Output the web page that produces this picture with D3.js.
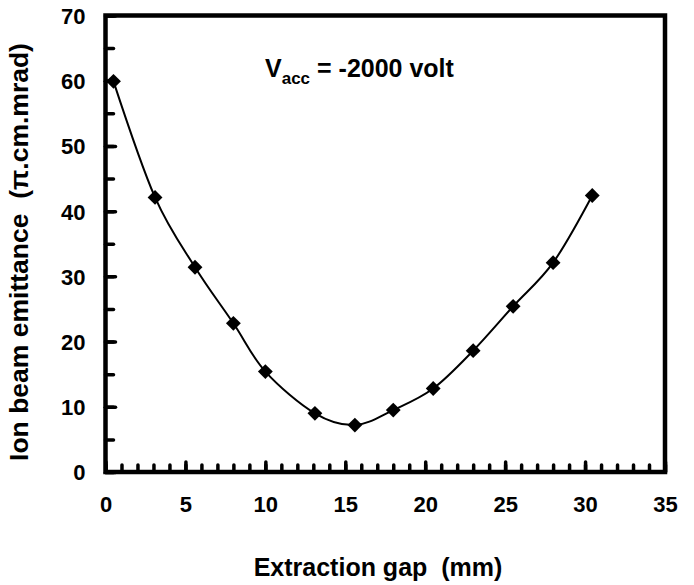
<!DOCTYPE html>
<html lang="en">
<head>
    <meta charset="UTF-8" />
    <script src="https://d3js.org/d3.v7.min.js"></script>
    <title>Ion beam emittance</title>
    <style>
        body { margin: 0; background: #fff; }
        text { font-family: "Liberation Sans", Arial, sans-serif; font-weight: bold; fill: #000; white-space: pre; }
        .axis .domain { display: none; }
    </style>
</head>
<body>
    <script>
        // extraction gap (mm) and emittance (pi.cm.mrad)
        const gap = [0.5, 3.1, 5.6, 8.0, 10.0, 13.1, 15.6, 18.0, 20.5, 23.0, 25.5, 28.0, 30.45];
        const emittance = [59.9, 42.1, 31.4, 22.8, 15.4, 9.0, 7.2, 9.5, 12.8, 18.6, 25.4, 32.1, 42.4];
        const xTicks = [0, 5, 10, 15, 20, 25, 30, 35];
        const yTicks = [0, 10, 20, 30, 40, 50, 60, 70];

        const points = gap.map((g, i) => ({ x: g, y: emittance[i] }));

        const svg = d3.select("body")
                    .append("svg")
                    .attr("width", 694)
                    .attr("height", 585);

        const plotL = 105.5, plotR = 665, plotT = 15.5, plotB = 472;
        const scaleX = d3.scaleLinear().domain([0, 35]).range([plotL, plotR]);
        const scaleY = d3.scaleLinear().domain([0, 70]).range([plotB, plotT]);

        // frame first, ticks drawn over it
        svg.append("rect")
            .attr("x", plotL).attr("y", plotT)
            .attr("width", plotR - plotL).attr("height", plotB - plotT)
            .attr("fill", "none").attr("stroke", "#000").attr("stroke-width", 4.5);

        // minor ticks every 1 mm / 5 units, major ones with labels, all pointing inward
        const minorX = d3.axisBottom(scaleX).tickValues(d3.range(0, 36, 1)).tickSize(-7).tickFormat("");
        const majorX = d3.axisBottom(scaleX).tickValues(xTicks).tickSize(-10).tickPadding(40);
        const minorY = d3.axisLeft(scaleY).tickValues(d3.range(0, 71, 5)).tickSize(-8).tickFormat("");
        const majorY = d3.axisLeft(scaleY).tickValues(yTicks).tickSize(-10).tickPadding(20);

        const axes = [
            svg.append("g").attr("class", "axis").attr("transform", `translate(0,${plotB})`).call(minorX),
            svg.append("g").attr("class", "axis").attr("transform", `translate(0,${plotB})`).call(majorX),
            svg.append("g").attr("class", "axis").attr("transform", `translate(${plotL},0)`).call(minorY),
            svg.append("g").attr("class", "axis").attr("transform", `translate(${plotL},0)`).call(majorY)
        ];
        axes.forEach(g => g.selectAll(".tick line").attr("stroke", "#000").attr("stroke-width", 3.5).attr("stroke-linecap", "round"));
        axes[1].selectAll("text").attr("font-size", 22).attr("dy", "0");
        axes[3].selectAll("text").attr("font-size", 22).attr("dy", "0.36em");

        const line = d3.line()
                    .x(d => scaleX(d.x))
                    .y(d => scaleY(d.y))
                    .curve(d3.curveCardinal.tension(0));
        svg.append("path")
            .datum(points)
            .attr("d", line)
            .attr("fill", "none")
            .attr("stroke", "#000")
            .attr("stroke-width", 2);

        const diamond = d3.symbol().type(d3.symbolSquare).size(110);
        svg.selectAll(".pt")
            .data(points)
            .join("path")
            .attr("class", "pt")
            .attr("d", diamond)
            .attr("fill", "#000")
            .attr("transform", d => `translate(${scaleX(d.x)},${scaleY(d.y)}) rotate(45)`);

        const label = svg.append("text").attr("x", 265).attr("y", 77).attr("font-size", 25);
        label.append("tspan").text("V");
        label.append("tspan").attr("font-size", 17).attr("dy", 7).text("acc");
        label.append("tspan").attr("dy", -7).text(" = -2000 volt");

        svg.append("text")
            .attr("x", 378).attr("y", 576)
            .attr("text-anchor", "middle")
            .attr("font-size", 25)
            .text("Extraction gap  (mm)");

        svg.append("text")
            .attr("transform", "translate(28,252) rotate(-90)")
            .attr("text-anchor", "middle")
            .attr("font-size", 26.5)
            .text("Ion beam emittance  (\u03c0.cm.mrad)");
    </script>
</body>
</html>
